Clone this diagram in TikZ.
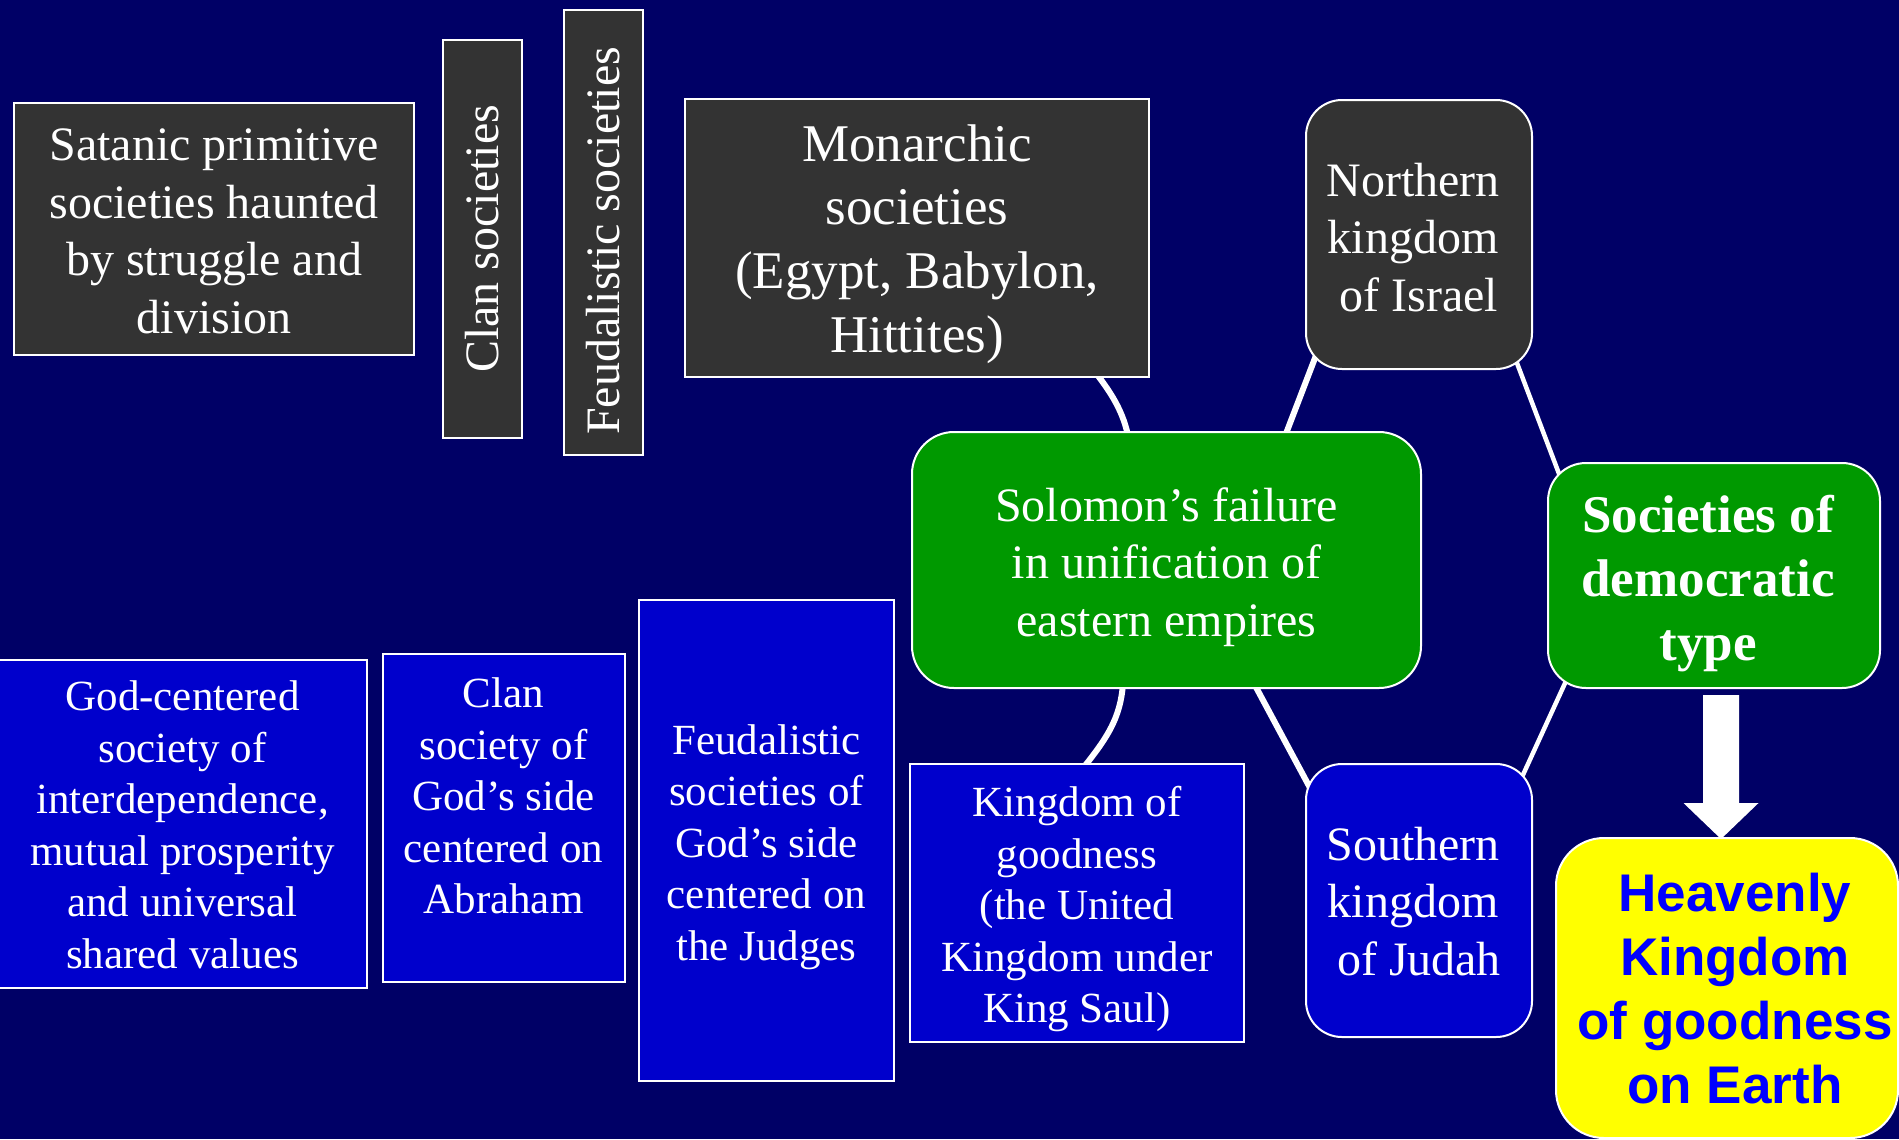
\documentclass[tikz,border=0pt]{standalone}
\usepackage{fontspec}
\setmainfont{Liberation Serif}
\newfontfamily\arialfont{Liberation Sans}
\usetikzlibrary{calc}
\definecolor{navybg}{RGB}{0,0,102}
\definecolor{darkfill}{RGB}{51,51,51}
\definecolor{bluefill}{RGB}{0,0,204}
\definecolor{greenfill}{RGB}{0,153,0}
\definecolor{yellowfill}{RGB}{255,255,0}
\definecolor{bluetext}{RGB}{0,0,255}
\pgfdeclarelayer{bg}
\pgfdeclarelayer{lines}
\pgfsetlayers{bg,lines,main}
\begin{document}
\begin{tikzpicture}[x=1bp,y=-1bp,
  box/.style={draw=white, line width=2bp, inner sep=0pt},
  darkbox/.style={box, fill=darkfill},
  bluebox/.style={box, fill=bluefill},
  greenbox/.style={box, fill=greenfill, rounded corners=38bp},
  roundbox/.style={rounded corners=36bp},
  txt/.style={inner sep=0pt, text=white, align=center,
    font=\fontsize{48bp}{57.5bp}\selectfont},
  small/.style={txt, font=\fontsize{43bp}{51.5bp}\selectfont},
  big/.style={txt, font=\fontsize{53bp}{63.6bp}\selectfont},
  conn/.style={draw=white, line width=6bp},
  thinconn/.style={draw=white, line width=4.5bp}
]
\useasboundingbox (0,0) rectangle (1899,1139);
\begin{pgfonlayer}{bg}
\fill[navybg] (0,0) rectangle (1899,1139);
\end{pgfonlayer}
\clip (0,0) rectangle (1899,1139);

% top row (dark)
\node[darkbox, minimum width=399.5bp, minimum height=252bp] (sat) at (214.25,229) {};
\node[txt] (sat-t) at (214.25,231.5) {Satanic primitive\\societies haunted\\by struggle and\\division};
\node[darkbox, minimum width=79bp, minimum height=398bp] (clanv) at (482.5,239) {};
\node[txt, rotate=90] (clanv-t) at (482.5,239) {Clan societies};
\node[darkbox, minimum width=79bp, minimum height=445bp] (feudv) at (603.5,232.5) {};
\node[txt, rotate=90] (feudv-t) at (603.5,241) {Feudalistic societies};
\node[darkbox, minimum width=464bp, minimum height=278bp] (monarch) at (917,238) {};
\node[big] (monarch-t) at (917,244) {Monarchic\\societies\\(Egypt, Babylon,\\Hittites)};
\node[darkbox, roundbox, minimum width=226bp, minimum height=269bp] (north) at (1419,234.5) {};
\node[txt] (north-t) at (1413,237.5) {Northern\\kingdom\\\ of Israel};

% middle (green)
\node[greenbox, rounded corners=42bp, minimum width=509bp, minimum height=256bp] (solomon) at (1166.5,560) {};
\node[txt] (solomon-t) at (1166.5,567) {Solomon’s failure\\in unification of\\eastern empires};
\node[greenbox, minimum width=332bp, minimum height=225bp] (dem) at (1714,575.5) {};
\node[txt, font=\fontsize{53bp}{64bp}\selectfont\bfseries] (dem-t) at (1708,583.5) {Societies of\\democratic\\type};

% bottom row (blue)
\node[bluebox, minimum width=369bp, minimum height=328bp] (godc) at (182.5,824) {};
\node[small] (godc-t) at (182.5,825)
  {God-centered\\society of\\interdependence,\\mutual prosperity\\and universal\\shared values};
\node[bluebox, minimum width=242bp, minimum height=328bp] (clang) at (504,818) {};
\node[small] (clang-t) at (503.5,796) {Clan\\society of\\God’s side\\centered on\\Abraham};
\node[bluebox, minimum width=255bp, minimum height=481bp] (feudg) at (766.5,840.5) {};
\node[small] (feudg-t) at (766.5,847) {Feudalistic\\societies of\\God’s side\\centered on\\the Judges};
\node[bluebox, minimum width=334bp, minimum height=278bp] (kgood) at (1077,903) {};
\node[small] (kgood-t) at (1077,909) {Kingdom of\\goodness\\(the United\\Kingdom under\\King Saul)};
\node[bluebox, roundbox, minimum width=226bp, minimum height=273bp] (south) at (1419,900.5) {};
\node[txt] (south-t) at (1413,901.5) {Southern\\kingdom\\\ of Judah};

% goal (yellow)
\node[box, fill=yellowfill, rounded corners=48bp, minimum width=342bp, minimum height=300bp] (heaven) at (1727,988) {};
\node[txt, text=bluetext, font=\fontsize{53bp}{64bp}\selectfont\arialfont\bfseries] (heaven-t) at (1735,988.5)
  {Heavenly\\Kingdom\\of goodness\\on Earth};

% connectors
\begin{pgfonlayer}{lines}
\draw[conn] ($(monarch.south)+(175,-10)$) .. controls ($(monarch.south)+(193,13)$) and ($(solomon.north)+(-42.5,-20)$) .. ($(solomon.north)+(-37.5,10)$);
\draw[conn] ($(north.south west)+(12.7,-19)$) -- ($(solomon.north)+(115.5,13)$);
\draw[thinconn] ($(north.south east)+(-20.6,-19)$) -- ($(dem.north west)+(17.8,27)$);
\draw[conn] ($(solomon.south)+(-43,-12)$) .. controls ($(solomon.south)+(-45,25)$) and ($(kgood.north)+(35,-30)$) .. ($(kgood.north)+(2,10)$);
\draw[conn] ($(solomon.south)+(83.5,-13)$) -- ($(south.north west)+(11,36)$);
\draw[thinconn] ($(south.north east)+(-16.5,26)$) -- ($(dem.south west)+(23.6,-18)$);

% block arrow from dem to heaven
\coordinate (arrtop) at ($(dem.south)+(7,6)$);
\coordinate (arrtip) at (arrtop |- heaven.north);
\fill[white] ($(arrtop)+(-18,0)$) -- ($(arrtop)+(18,0)$) -- ($(arrtop)+(18,108)$)
  -- ($(arrtop)+(37.5,108)$) -- ($(arrtip)+(0,2)$) -- ($(arrtop)+(-37.5,108)$)
  -- ($(arrtop)+(-18,108)$) -- cycle;
\end{pgfonlayer}
\end{tikzpicture}
\end{document}
